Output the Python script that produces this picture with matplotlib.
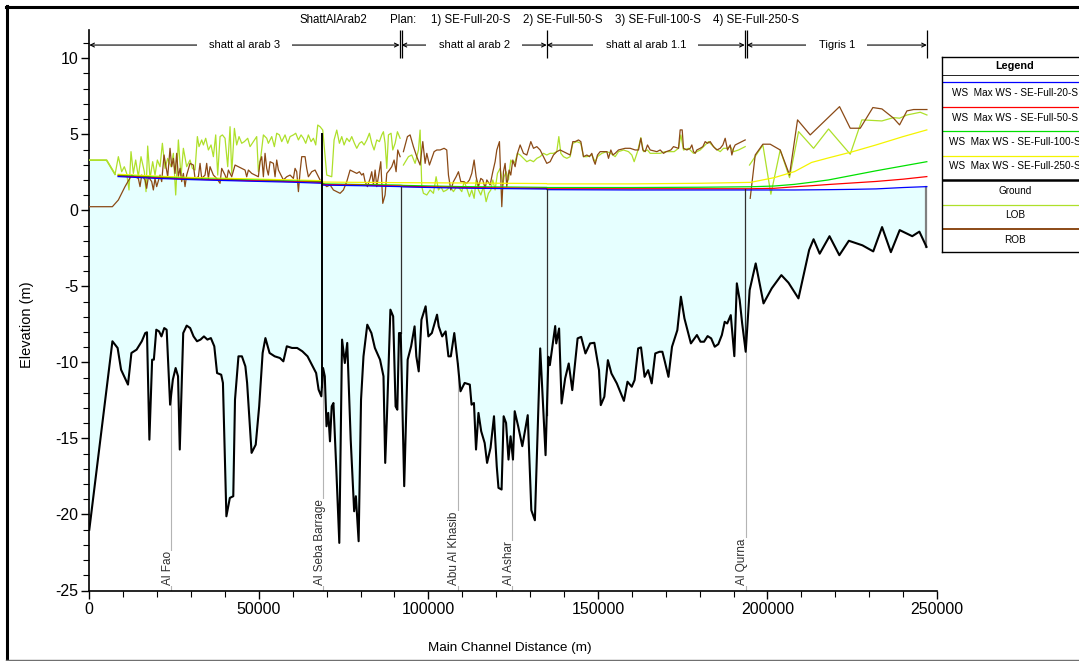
import numpy as np
import matplotlib
matplotlib.use('Agg')
import matplotlib.pyplot as plt
from matplotlib.lines import Line2D
from matplotlib.ticker import MultipleLocator, FuncFormatter

NARROW = ['Liberation Sans Narrow', 'Liberation Sans', 'DejaVu Sans']
REGULAR = ['Liberation Sans', 'DejaVu Sans']
plt.rcParams['font.family'] = NARROW
plt.rcParams['axes.unicode_minus'] = False

# ---- profile data (main channel distance in m, elevation in m) ----
ground_dist = [0, 6820, 8350, 9370, 11410, 12420, 13950, 15480, 16500, 17010, 17720, 18530,
               19040, 19760, 20570, 21280, 22100, 22810, 23630, 23830, 24640, 25460, 26170,
               26680, 27700, 28720, 29740, 30750, 31770, 32790, 33810, 34830, 35850, 36860,
               37680, 38900, 39410, 40430, 41450, 42460, 42970, 43990, 45010, 46030, 46540,
               47860, 49080, 50100, 51120, 51940, 53160, 54680, 56210, 57230, 58250, 59780,
               61300, 62830, 64360, 65890, 66900, 67620, 68430, 68940, 69450, 69960, 70470,
               70980, 71490, 72000, 72810, 73730, 74540, 75360, 76070, 77090, 78110, 78620,
               79430, 80140, 80860, 81980, 83200, 84220, 85740, 86760, 87270, 87780, 88800,
               89610, 90330, 90840, 91340, 91850, 92870, 93890, 94910, 95930, 96440, 97150,
               97960, 99190, 100000, 101020, 102550, 103050, 104070, 105090, 105910, 106620,
               107640, 108660, 109470, 110690, 112220, 112730, 113440, 114050, 114770, 115580,
               116600, 117310, 118330, 119350, 120160, 120670, 121590, 122200, 122910, 123630,
               124240, 124950, 125460, 126480, 127700, 129300, 130360, 131410, 132980, 134560,
               135400, 135820, 137400, 137710, 138550, 139290, 140340, 141390, 142440, 144010,
               145060, 146320, 147690, 148950, 150320, 150840, 151890, 152940, 153990, 155570,
               157670, 158720, 159980, 160820, 161870, 162710, 163760, 164810, 165860, 166910,
               168170, 169010, 169750, 170800, 171850, 173420, 174470, 175520, 177420, 179200,
               180250, 181300, 182350, 183400, 184450, 185500, 186550, 187390, 188130, 189180,
               190230, 190970, 191810, 192540, 193590, 194750, 196530, 198840, 201260, 204100,
               206200, 209140, 212290, 213600, 215400, 218300, 221200, 224000, 228000, 231200,
               233800, 236400, 239000, 242700, 244800, 246900]
ground_elev = [-21.0, -8.61, -9.05, -10.48, -11.46, -9.38, -9.16, -8.61, -8.07, -8.02, -15.08, -9.82,
               -9.82, -7.85, -7.96, -8.29, -7.74, -7.85, -11.90, -12.78, -11.13, -10.37, -10.91,
               -15.73, -8.07, -7.58, -7.74, -8.29, -8.61, -8.50, -8.29, -8.50, -8.40, -8.94,
               -10.70, -10.81, -11.35, -20.12, -18.91, -18.80, -12.45, -9.60, -9.60, -10.26, -11.35,
               -15.95, -15.41, -12.89, -9.38, -8.40, -9.38, -9.60, -9.71, -9.93, -8.94, -9.05,
               -9.05, -9.27, -9.60, -10.26, -10.70, -11.79, -12.23, -10.37, -10.91, -14.20, -13.32,
               -15.19, -12.89, -12.67, -16.83, -21.87, -8.50, -10.04, -8.72, -15.08, -19.79, -18.80,
               -21.76, -12.45, -9.60, -7.52, -8.07, -9.05, -9.82, -10.91, -16.61, -13.54, -6.53,
               -6.97, -12.89, -13.11, -8.07, -8.07, -18.14, -9.82, -8.94, -7.63, -9.60, -10.59,
               -7.19, -6.31, -8.29, -8.07, -6.86, -7.63, -8.29, -7.96, -9.60, -9.60,
               -8.07, -10.04, -11.90, -11.35, -11.46, -12.78, -12.67, -15.73, -13.32, -14.53,
               -15.30, -16.61, -15.62, -13.54, -16.83, -18.25, -18.36, -13.54, -13.98, -16.39,
               -14.86, -16.39, -13.21, -14.20, -15.51, -13.47, -19.72, -20.38, -9.08, -16.10,
               -9.63, -10.18, -7.61, -8.75, -7.77, -12.70, -11.05, -10.07, -11.82, -8.42,
               -8.32, -9.41, -8.75, -8.71, -10.51, -12.81, -12.26, -9.85, -10.73, -11.38,
               -12.53, -11.27, -11.60, -11.16, -9.08, -9.01, -10.95, -10.51, -11.38, -9.41,
               -9.30, -9.30, -9.96, -10.95, -8.97, -7.88, -5.68, -7.11, -8.75, -8.20,
               -8.64, -8.64, -8.27, -8.42, -8.97, -8.80, -8.20, -7.33, -7.44, -6.89,
               -9.59, -4.80, -5.90, -7.44, -9.30, -5.24, -3.49, -6.12, -5.13, -4.26,
               -4.76, -5.79, -2.61, -1.90, -2.85, -1.70, -2.95, -2.00, -2.30, -2.70,
               -1.10, -2.75, -1.30, -1.70, -1.40, -2.40]

lob_dist = [0, 5100, 7600, 8570, 9550, 10330, 11020, 11710, 12300, 12990, 13680, 14460, 15250,
            16240, 16730, 17220, 17910, 18690, 19380, 20070, 20860, 21550, 22330, 23120, 24100,
            24790, 25480, 26270, 27050, 27740, 28720, 29710, 30400, 31180, 31870, 32360, 33150,
            33640, 34330, 35120, 35900, 36590, 37280, 37870, 38560, 39250, 40030, 40820, 41510,
            42000, 42790, 43470, 44160, 44950, 45730, 46720, 47410, 48390, 49370, 49860, 50650,
            51340, 52320, 52810, 53800, 54580, 55270, 56060, 56750, 57730, 58520, 59210, 60190,
            60880, 61670, 62450, 63140, 63830, 64610, 65400, 66090, 66780, 67370, 68060, 68850,
            70030, 71500, 72190, 72980, 73760, 74450, 75140, 75930, 76710, 77400, 78190, 78880,
            79660, 80350, 81040, 81830, 82610, 83300, 83990, 84780, 85560, 86250, 86740, 87230,
            87730, 88220, 89000, 89500, 90190, 90870, 91660, 92100,
            92640, 94120, 95100, 96080, 97070, 97560, 98050, 98540, 99530, 100510, 101490,
            102280, 102970, 103660, 104440, 105420, 106410, 107390, 108380, 109160, 109850,
            110540, 111330, 112110, 112800, 113490, 114080, 114770, 115460, 116240, 117030,
            117720, 118410, 119000, 119680, 120370, 121160, 121950, 122340, 122930, 123620,
            124300, 124900, 125580, 126270, 127060, 128040, 129030, 130010, 131000, 131980,
            132960, 133940, 134920, 135910, 136890, 137870, 138470, 139060, 139840, 140830,
            141810, 142600, 143780, 144960, 145740, 146730, 148200, 149190, 149870, 151150,
            152630, 153810, 155080, 156070, 157540, 159020, 160000, 160690, 161670, 162660,
            163440, 164620, 165410, 166880, 168360, 169830, 171310, 172490, 173770, 174460,
            175240, 176720, 178190, 179180, 180160, 181140, 182620, 183600, 184580, 186060,
            187040, 188030, 189010, 190000, 191470, 193430, 193700,
            194710, 198650, 201010, 203760, 206510, 209170, 213590, 218020, 224410, 227850,
            233750, 237190, 238960, 241130, 245060, 247030]
lob_elev = [3.30, 3.30, 2.37, 3.53, 2.54, 2.87, 2.43, 1.34, 3.86, 2.43, 3.31, 2.21, 3.53,
            2.54, 1.23, 4.23, 2.10, 3.20, 2.32, 3.31, 2.87, 4.41, 2.76, 3.42, 2.87,
            3.75, 1.01, 4.63, 2.21, 4.08, 2.87, 3.31, 2.76, 2.65, 4.85, 4.19, 4.63,
            4.30, 4.74, 3.97, 4.30, 3.53, 4.96, 2.32, 4.85, 4.96, 4.74, 2.87, 5.50,
            2.43, 5.39, 4.30, 4.85, 4.41, 4.52, 4.74, 4.19, 4.52, 4.85, 2.54, 3.64,
            4.96, 4.74, 4.41, 4.85, 4.19, 5.07, 4.96, 4.52, 4.96, 4.41, 4.85, 4.96,
            5.07, 4.63, 4.96, 4.74, 4.41, 4.96, 4.52, 4.74, 4.30, 5.61, 5.50, 5.28,
            2.32, 2.21, 4.63, 5.28, 4.41, 4.85, 4.30, 4.74, 4.52, 4.85, 4.41, 4.08,
            4.41, 4.52, 4.30, 4.63, 5.07, 4.41, 3.97, 4.63, 4.52, 4.96, 5.17, 4.41,
            2.76, 4.96, 5.07, 3.97, 4.41, 5.17, 4.74, np.nan,
            2.98, 3.53, 3.64, 3.09, 3.97, 5.28, 1.56, 1.12, 1.01, 1.34, 1.12,
            2.21, 1.34, 1.56, 1.23, 1.34, 1.56, 1.23, 1.56, 1.45, 1.23,
            1.89, 1.45, 0.90, 1.34, 0.79, 2.00, 1.34, 1.01, 1.56, 0.57,
            1.12, 1.34, 2.00, 1.34, 2.43, 2.76, 1.67, 2.21, 2.54, 2.00,
            3.31, 3.09, 3.20, 3.75, 3.64, 3.42, 3.20, 3.31, 3.20, 3.42,
            3.53, 3.75, 3.64, 3.75, 3.75, 3.86, 4.85, 3.75, 3.53, 3.42,
            3.53, 4.41, 4.52, 4.41, 3.53, 3.53, 3.64, 3.20, 3.53, 3.75,
            3.86, 3.75, 3.53, 3.86, 3.97, 3.86, 3.64, 3.20, 3.86, 4.78,
            3.86, 3.97, 3.75, 3.75, 3.75, 3.86, 3.86, 3.86, 4.08, 4.96,
            3.97, 4.08, 3.75, 3.86, 3.97, 4.19, 4.52, 4.30, 4.08, 3.86,
            4.08, 4.08, 4.19, 3.86, 3.97, 4.19, np.nan,
            2.98, 4.30, 1.06, 3.97, 2.15, 5.18, 4.08, 5.35, 3.69, 5.95,
            5.88, 6.10, 6.06, 6.27, 6.45, 6.27]

rob_dist = [0, 6800, 8560, 10530, 12500, 13480, 14460, 14960, 15450, 16430, 16920, 17420, 18400,
            18890, 19380, 19870, 20860, 21350, 22040, 22530, 23120, 23810, 24300, 24790, 25280,
            25770, 26260, 26760, 27250, 27740, 28230, 28720, 29710, 30690, 31180, 32170, 32660,
            33150, 34130, 34620, 35120, 35610, 36590, 37570, 38560, 39050, 40030, 40520, 41020,
            42000, 42980, 43970, 44950, 45930, 46420, 46920, 47900, 48880, 49860, 50360, 50850,
            51340, 51830, 52320, 52810, 53310, 54290, 54780, 55270, 55770, 56750, 57240, 58220,
            59210, 60190, 60680, 61170, 61670, 62160, 62650, 63630, 64120, 64610, 65600, 66580,
            67560, 68550, 69040, 70030, 71010, 71990, 72980, 73960, 74940, 75930, 76910, 77890,
            78880, 79660, 80350, 80840, 81330, 82020, 82810, 83300, 83790, 84290, 84780, 85270,
            85960, 86550, 87230, 87730, 88510, 89200, 89890, 90480, 90970, 91660, 92100,
            92640, 93820, 94610, 95590, 96580, 97560, 98350, 99040, 99530, 100310, 101000,
            101690, 102480, 103460, 104640, 105420, 105920, 106610, 107390, 108180, 108870,
            109560, 110340, 111330, 112110, 112800, 113490, 114080, 114770, 115460, 116050,
            116740, 117230, 118210, 119000, 119680, 120180, 120960, 121650, 122140, 122630,
            123120, 123810, 124300, 124900, 125580, 126270, 127060, 128040, 129030, 130210,
            131000, 131980, 132960, 133940, 134920, 135910, 136890, 137870, 138860, 139840,
            140830, 141810, 142600, 143290, 144270, 144960, 145740, 146730, 147510, 148200,
            148690, 149190, 149870, 150660, 152630, 153120, 153810, 154400, 155080, 156070,
            158030, 159510, 160980, 161970, 162660, 163250, 163930, 164620, 165410, 167380,
            168360, 169340, 170130, 171510, 172290, 173770, 174260, 174850, 175240, 176230,
            177210, 177700, 178190, 178680, 179180, 180160, 180950, 181630, 182320, 183110,
            184090, 185080, 186060, 186850, 187530, 188220, 189010, 189500, 190000, 190480,
            191470, 192450, 193430, 193700,
            194910, 196390, 198650, 200810, 203760, 206510, 208870, 212610, 221260, 224410,
            227360, 231090, 233750, 237190, 238960, 241130, 243090, 247030]
rob_elev = [0.24, 0.24, 0.68, 1.56, 2.32, 2.21, 2.10, 1.56, 2.32, 2.00, 1.45, 2.21, 1.89,
            1.34, 2.10, 1.56, 2.32, 1.89, 3.64, 2.98, 2.21, 4.08, 2.87, 3.42, 2.43,
            3.75, 2.21, 2.76, 1.89, 2.43, 1.56, 2.32, 3.09, 2.98, 2.10, 2.21, 3.09,
            2.10, 2.32, 3.09, 2.10, 2.87, 2.32, 2.10, 1.78, 2.76, 2.32, 2.00, 2.65,
            2.21, 2.98, 2.87, 2.76, 2.65, 2.21, 2.65, 2.43, 2.32, 2.21, 3.20, 3.53,
            2.21, 3.75, 2.76, 2.32, 3.20, 3.09, 2.21, 3.31, 2.65, 2.21, 2.00, 2.21,
            2.32, 2.10, 2.76, 2.54, 1.23, 2.54, 3.53, 3.53, 2.76, 2.21, 2.54, 2.65,
            2.21, 1.78, 1.78, 1.56, 1.67, 1.34, 1.23, 1.12, 1.34, 1.89, 2.65, 2.54,
            2.43, 2.54, 2.32, 2.43, 1.89, 1.56, 2.10, 2.54, 1.67, 2.65, 1.56, 2.21,
            3.20, 0.46, 1.01, 2.43, 2.65, 2.87, 3.31, 2.54, 3.97, 3.53, np.nan,
            3.86, 4.85, 4.96, 4.19, 3.53, 2.98, 4.52, 3.09, 3.75, 2.98, 3.42,
            3.86, 3.97, 3.97, 4.08, 3.97, 2.32, 1.34, 1.89, 2.21, 2.54,
            1.89, 1.89, 1.78, 2.00, 2.43, 3.31, 2.21, 1.56, 2.10, 2.00,
            1.45, 2.00, 1.67, 2.54, 3.20, 3.97, 4.52, 0.24, 2.54, 3.09,
            1.56, 2.65, 2.32, 3.31, 2.87, 3.75, 4.30, 3.75, 3.64, 4.52,
            4.08, 4.19, 3.97, 3.53, 3.09, 3.20, 3.64, 3.86, 3.97, 3.86,
            3.75, 3.64, 4.52, 4.52, 4.63, 4.52, 3.53, 3.64, 3.53, 3.75,
            3.31, 3.03, 3.64, 3.86, 3.86, 3.42, 3.97, 3.64, 3.75, 3.97,
            4.08, 4.08, 3.97, 3.97, 4.74, 3.97, 3.86, 4.30, 3.97, 3.86,
            3.97, 3.75, 3.86, 3.97, 4.19, 4.08, 5.29, 5.29, 4.08, 3.97,
            4.08, 4.30, 3.86, 3.75, 3.97, 4.08, 4.19, 4.52, 4.41, 4.52,
            4.19, 3.97, 4.08, 4.30, 4.74, 3.97, 4.30, 3.64, 4.08, 4.30,
            4.41, 4.52, 4.63, np.nan,
            0.79, 3.64, 4.35, 4.35, 3.97, 2.33, 5.95, 4.96, 6.82, 5.40,
            5.40, 6.76, 6.67, 6.06, 5.62, 6.54, 6.63, 6.63]

# maximum water surface for the four plans
ws_dist = [8500, 20000, 30000, 45000, 60000, 68600, 68700, 80000, 91800, 92600, 110000,
           134900, 135000, 160000, 180000, 195000, 202000, 208000, 213000, 218000, 225000,
           232000, 240000, 247000]
ws_20 = [2.22, 2.10, 2.02, 1.93, 1.85, 1.78, 1.66, 1.62, 1.56, 1.54, 1.46, 1.40, 1.36, 1.34,
         1.34, 1.34, 1.34, 1.34, 1.35, 1.36, 1.38, 1.41, 1.50, 1.56]
ws_50 = [2.26, 2.14, 2.05, 1.97, 1.89, 1.84, 1.70, 1.66, 1.60, 1.58, 1.50, 1.44, 1.42, 1.42,
         1.42, 1.42, 1.45, 1.55, 1.62, 1.70, 1.80, 1.90, 2.05, 2.22]
ws_100 = [2.30, 2.18, 2.09, 2.01, 1.93, 1.88, 1.74, 1.70, 1.66, 1.64, 1.56, 1.51, 1.50, 1.50,
          1.52, 1.55, 1.60, 1.71, 1.85, 2.00, 2.30, 2.60, 2.92, 3.20]
ws_250 = [2.37, 2.25, 2.16, 2.08, 2.00, 1.95, 1.86, 1.84, 1.82, 1.82, 1.80, 1.76, 1.74, 1.74,
          1.78, 1.84, 2.15, 2.55, 3.15, 3.45, 3.85, 4.30, 4.85, 5.29]

# downstream tidal level before the first computed water surface
tail_dist = [0, 5100, 7600]
tail_ws = [3.30, 3.30, 2.37]

stations = ['Al Fao', 'Al Seba Barrage', 'Abu Al Khasib', 'Al Ashar', 'Al Qurna']
station_dist = [24100, 68900, 108660, 124640, 193590]

reach_names = ['shatt al arab 3', 'shatt al arab 2', 'shatt al arab 1.1', 'Tigris 1']
reach_start = [0, 92100, 134900, 193900]
reach_end = [91500, 134900, 193300, 247000]
junction_marks = [91500, 92100, 134900, 193300, 193900, 247000]

barrage_dist, barrage_top = 68600, 5.0
junctions = [91800, 134900, 193500]
junction_ws = [1.56, 1.40, 1.40]

plan_title = ['ShattAlArab2', 'Plan:', '1) SE-Full-20-S', '2) SE-Full-50-S',
              '3) SE-Full-100-S', '4) SE-Full-250-S']
legend_labels = ['WS  Max WS - SE-Full-20-S', 'WS  Max WS - SE-Full-50-S',
                 'WS  Max WS - SE-Full-100-S', 'WS  Max WS - SE-Full-250-S',
                 'Ground', 'LOB', 'ROB']

C_WS = ['#0000ff', '#ff0000', '#00e000', '#f4f400']
C_LOB = '#aee02a'
C_ROB = '#8b4a16'
C_FILL = '#e6ffff'

W, H = 1079, 661


def fx(px):
    return px / W


def fy(py):
    return 1 - py / H


fig = plt.figure(figsize=(W / 100, H / 100), dpi=100)
ax = fig.add_axes([fx(89.3), fy(590.5), fx(937) - fx(89.3), fy(30.0) - fy(590.5)])
ax.set_xlim(0, 250000)
ax.set_ylim(-25, 11.86)

# water body between channel bed and the water surface
gd = np.array(ground_dist, dtype=float)
ge = np.array(ground_elev, dtype=float)
top_d = np.array(tail_dist + ws_dist, dtype=float)
top_e = np.array(tail_ws + ws_20, dtype=float)
xf = np.union1d(gd, top_d)
xf = xf[xf <= gd[-1]]
ax.fill_between(xf, np.interp(xf, gd, ge), np.interp(xf, top_d, top_e),
                color=C_FILL, lw=0, zorder=1)
ax.plot([gd[-1], gd[-1]], [ge[-1], np.interp(gd[-1], top_d, top_e)],
        color='#808080', lw=1.6, zorder=2)

# bank stations
ax.plot(lob_dist, lob_elev, color=C_LOB, lw=0.9, zorder=3)
ax.plot(rob_dist, rob_elev, color=C_ROB, lw=0.9, zorder=3)

# water surfaces
ax.plot(tail_dist, tail_ws, color=C_LOB, lw=1.2, zorder=4)
for ws, col in zip([ws_250, ws_100, ws_50, ws_20], C_WS[::-1]):
    ax.plot(ws_dist, ws, color=col, lw=0.9, zorder=4)

# structure and junction verticals
ax.plot([barrage_dist, barrage_dist], [np.interp(barrage_dist, gd, ge), barrage_top],
        color='black', lw=1.4, zorder=5)
for jd, jw in zip(junctions, junction_ws):
    ax.plot([jd, jd], [np.interp(jd, gd, ge), jw], color='#303030', lw=0.9, zorder=5)

ax.plot(gd, ge, color='black', lw=1.5, zorder=6)

# named locations along the river
for name, sd in zip(stations, station_dist):
    ax.plot([sd, sd], [-25, np.interp(sd, gd, ge)], color='#b4b4b4', lw=0.8, zorder=2)
    ax.text(sd - 1000, -24.65, name, rotation=90, ha='center', va='bottom', fontsize=8.5,
            family=REGULAR, color='#303030', zorder=7,
            bbox=dict(fc='white', ec='none', pad=0.3))

# reach extents along the top
for x0, x1, name in zip(reach_start, reach_end, reach_names):
    ax.annotate('', xy=(x1, 10.87), xytext=(x0, 10.87),
                arrowprops=dict(arrowstyle='<->', lw=0.8, color='black',
                                shrinkA=0, shrinkB=0, mutation_scale=7))
    ax.text((x0 + x1) / 2, 10.87, name, ha='center', va='center', fontsize=8,
            bbox=dict(boxstyle='square,pad=1.1', fc='white', ec='none'))
ax.vlines(junction_marks, 10.05, 11.86, colors='black', lw=0.9)

# axes styling
for side in ['top', 'right']:
    ax.spines[side].set_visible(False)
for side in ['left', 'bottom']:
    ax.spines[side].set_linewidth(1.2)
ax.xaxis.set_major_locator(MultipleLocator(50000))
ax.xaxis.set_minor_locator(MultipleLocator(10000))
ax.yaxis.set_major_locator(MultipleLocator(5))
ax.yaxis.set_minor_locator(MultipleLocator(1))
ax.xaxis.set_major_formatter(FuncFormatter(lambda v, p: f'{v:.0f}'))
ax.yaxis.set_major_formatter(FuncFormatter(lambda v, p: f'{v:.0f}'))
ax.tick_params(which='major', length=6, width=1, labelsize=11.5, pad=2)
ax.tick_params(which='minor', length=4, width=0.8)

fig.text(fx(27), fy(325), 'Elevation (m)', rotation=90, ha='center', va='center',
         fontsize=10.5, family=REGULAR)
fig.text(fx(510), fy(648), 'Main Channel Distance (m)', ha='center', va='center',
         fontsize=9.7)

# plan header
for txt, px in zip(plan_title, [333, 403, 471, 563, 658, 756]):
    fig.text(fx(px), fy(20), txt, ha='center', va='center', fontsize=8.3)

# legend table
lg = fig.add_axes([fx(941.7), fy(252), fx(1095) - fx(941.7), fy(57) - fy(252)])
lg.set_xlim(0, 1095 - 941.7)
lg.set_ylim(252, 57)
lg.set_xticks([])
lg.set_yticks([])
for s in lg.spines.values():
    s.set_linewidth(1.0)
lg.text(73.3, 66, 'Legend', ha='center', va='center', fontsize=7.8, weight='bold')
lg.axhline(75, color='black', lw=0.6)
leg_colors = C_WS + ['black', C_LOB, C_ROB]
leg_widths = [0.9, 0.9, 0.9, 0.9, 1.8, 0.9, 1.4]
for i, (lab, col, lw) in enumerate(zip(legend_labels, leg_colors, leg_widths)):
    ly = 82.3 + 24.45 * i
    lg.axhline(ly, color=col, lw=lw)
    lg.text(73.3, ly + 10.8, lab, ha='center', va='center', fontsize=7.2)

# outer frame of the plot window
fig.add_artist(Line2D([fx(6.5), fx(6.5)], [fy(6), fy(660)], color='black', lw=2.2))
fig.add_artist(Line2D([fx(6), fx(1079)], [fy(6.5), fy(6.5)], color='black', lw=2.2))
fig.add_artist(Line2D([fx(6), fx(1079)], [fy(659.5), fy(659.5)], color='#707070', lw=1))

fig.savefig('out.png', dpi=100, facecolor='white')
